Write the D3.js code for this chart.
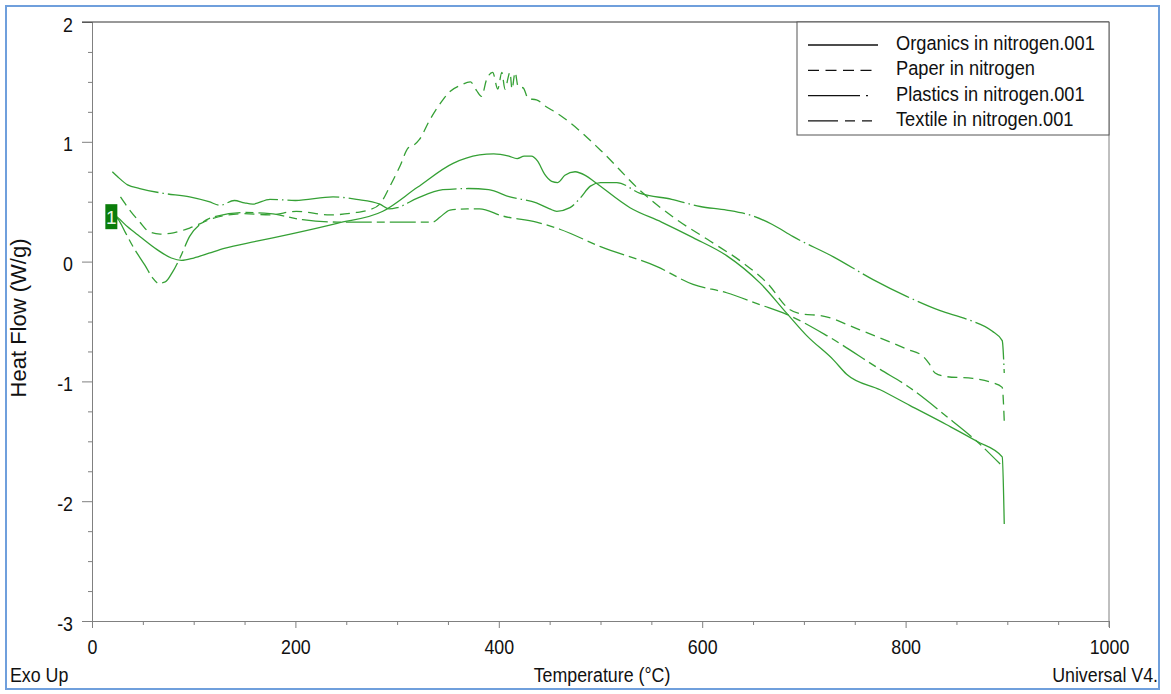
<!DOCTYPE html>
<html>
<head>
<meta charset="utf-8">
<script src="https://cdn.jsdelivr.net/npm/d3@7"></script>
<style>
body { margin: 0; background: #fff; }
svg text { font-family: "Liberation Sans", Arial, sans-serif; fill: #111; }
</style>
</head>
<body>
<svg id="chart" width="1171" height="694"></svg>
<script>
// tick labels
const xTicks = [0, 200, 400, 600, 800, 1000]
const yTicks = [-3, -2, -1, 0, 1, 2]
const seriesNames = ["Organics in nitrogen.001", "Paper in nitrogen", "Plastics in nitrogen.001", "Textile in nitrogen.001"]

// [temperature °C, heat flow W/g]
const organics = [[20,0.40],[25,0.37],[35,0.29],[47,0.21],[64,0.10],[78,0.03],[88,0.01],[100,0.03],[115,0.07],[130,0.11],[162,0.17],[195,0.23],[241,0.32],[286,0.42],[320,0.62],[355,0.82],[381,0.89],[395,0.90],[410,0.88],[418,0.86],[425,0.88],[432,0.88],[438,0.84],[445,0.73],[452,0.67],[458,0.66],[465,0.72],[475,0.75],[485,0.72],[495,0.66],[529,0.45],[560,0.33],[591,0.20],[624,0.05],[657,-0.18],[683,-0.43],[703,-0.62],[729,-0.82],[742,-0.94],[775,-1.07],[804,-1.20],[840,-1.36],[870,-1.50],[895,-1.63],[897,-2.19]]

const paper = [[28,0.54],[38,0.42],[47,0.33],[56,0.25],[67,0.23],[80,0.24],[96,0.28],[119,0.36],[149,0.40],[175,0.39],[201,0.42],[234,0.39],[260,0.41],[272,0.43],[283,0.48],[293,0.63],[303,0.80],[311,0.95],[316,0.97],[322,1.02],[332,1.18],[345,1.35],[352,1.42],[362,1.47],[372,1.50],[378,1.43],[383,1.38],[388,1.52],[394,1.58],[399,1.44],[403,1.58],[406,1.44],[411,1.58],[413,1.44],[416,1.58],[419,1.46],[424,1.45],[429,1.36],[437,1.35],[447,1.29],[457,1.24],[470,1.16],[500,0.93],[542,0.57],[575,0.35],[608,0.17],[640,-0.01],[664,-0.18],[686,-0.40],[700,-0.44],[716,-0.45],[755,-0.57],[801,-0.73],[817,-0.79],[823,-0.85],[829,-0.93],[840,-0.96],[866,-0.975],[885,-1.01],[895,-1.05],[897,-1.33]]

const plastics = [[20,0.75],[25,0.71],[35,0.64],[47,0.61],[70,0.57],[96,0.54],[115,0.50],[126,0.47],[140,0.51],[150,0.49],[158,0.48],[175,0.52],[200,0.51],[237,0.54],[260,0.52],[283,0.48],[292,0.44],[300,0.45],[320,0.53],[345,0.60],[370,0.61],[390,0.60],[411,0.54],[437,0.49],[450,0.44],[457,0.42],[470,0.45],[480,0.53],[490,0.63],[500,0.66],[516,0.66],[539,0.57],[570,0.52],[598,0.46],[624,0.43],[650,0.38],[669,0.31],[689,0.21],[729,0.04],[768,-0.15],[801,-0.29],[834,-0.41],[860,-0.48],[885,-0.58],[895,-0.66],[897,-0.93]]

const textile = [[20,0.40],[26,0.35],[33,0.24],[40,0.13],[52,-0.03],[60,-0.14],[65,-0.18],[72,-0.17],[79,-0.09],[87,0.04],[96,0.21],[109,0.33],[123,0.38],[149,0.41],[175,0.40],[207,0.35],[241,0.33],[286,0.33],[335,0.33],[342,0.37],[352,0.43],[369,0.44],[381,0.44],[404,0.38],[437,0.33],[460,0.27],[500,0.125],[555,-0.04],[591,-0.19],[624,-0.26],[657,-0.36],[683,-0.44],[723,-0.62],[775,-0.90],[802,-1.04],[840,-1.29],[870,-1.50],[893,-1.69]]

const W = 1171, H = 694
const plot = { left: 92, right: 1109, top: 22, bottom: 621 }
const green = "#35a035"
const squeezeK = 0.89

const series = [
    { name: seriesNames[0], values: organics, dash: null, legendDash: null },
    { name: seriesNames[1], values: paper, dash: "10,6", legendDash: "11,6.5" },
    { name: seriesNames[2], values: plastics, dash: "52,4,1.5,4", legendDash: "52,6,2,20" },
    { name: seriesNames[3], values: textile, dash: "26,5,8,5", legendDash: "30,7,10,7,10,20" }
]

// horizontally condensed text, like the squashed screenshot
function squeeze(sel, k) {
    sel.each(function() {
        let w = this.getComputedTextLength()
        d3.select(this).attr('textLength', w * k).attr('lengthAdjust', 'spacingAndGlyphs')
    })
}

const svg = d3.select('#chart')

// outer blue frame
svg.append('rect')
    .attr('x', 6).attr('y', 6)
    .attr('width', 1153).attr('height', 683)
    .attr('fill', 'none')
    .attr('stroke', '#6f9fdc')
    .attr('stroke-width', 2)

const x = d3.scaleLinear().domain([0, 1000]).range([plot.left, plot.right])
const y = d3.scaleLinear().domain([-3, 2]).range([plot.bottom, plot.top])

// minor ticks
const xMinor = d3.range(0, 1001, 50).filter(d => !xTicks.includes(d))
const yMinor = d3.range(-3, 2.001, 0.25).filter(d => !yTicks.includes(d))

svg.append('g')
    .attr('transform', `translate(0, ${plot.bottom})`)
    .call(d3.axisBottom(x).tickValues(xMinor).tickSize(4).tickSizeOuter(0).tickFormat(''))
svg.append('g')
    .attr('transform', `translate(${plot.left}, 0)`)
    .call(d3.axisLeft(y).tickValues(yMinor).tickSize(4).tickSizeOuter(0).tickFormat(''))

const xAxisG = svg.append('g')
    .attr('transform', `translate(0, ${plot.bottom})`)
    .call(d3.axisBottom(x).tickValues(xTicks).tickSize(7).tickSizeOuter(0).tickPadding(12).tickFormat(d => String(d)))
const yAxisG = svg.append('g')
    .attr('transform', `translate(${plot.left}, 0)`)
    .call(d3.axisLeft(y).tickValues(yTicks).tickSize(10).tickSizeOuter(0).tickPadding(9).tickFormat(d => String(d)))

svg.selectAll('.tick line, .domain').attr('stroke', '#808080')
svg.selectAll('.tick text').attr('font-size', 20).attr('font-family', '"Liberation Sans", Arial, sans-serif').attr('fill', '#111')
yAxisG.selectAll('.tick text').attr('dy', '0.45em')

// top and right frame lines
svg.append('line')
    .attr('x1', plot.left - 10).attr('x2', plot.right)
    .attr('y1', plot.top).attr('y2', plot.top)
    .attr('stroke', '#333')
svg.append('line')
    .attr('x1', plot.right).attr('x2', plot.right)
    .attr('y1', plot.top).attr('y2', plot.bottom + 6)
    .attr('stroke', '#808080')

// curves
const line = d3.line()
    .x(d => x(d[0]))
    .y(d => y(d[1]))
    .curve(d3.curveMonotoneX)

svg.append('g')
    .selectAll('path')
    .data(series)
    .join('path')
        .attr('d', d => line(d.values))
        .attr('fill', 'none')
        .attr('stroke', green)
        .attr('stroke-width', 1.3)
        .attr('stroke-dasharray', d => d.dash)

// start marker "1"
const mx = x(organics[0][0]) - 1, my = y(organics[0][1]) + 3
svg.append('rect')
    .attr('x', mx - 6).attr('y', my - 12.5)
    .attr('width', 12).attr('height', 25)
    .attr('fill', '#0b7d0b')
svg.append('text')
    .attr('x', mx).attr('y', my + 7)
    .attr('text-anchor', 'middle')
    .attr('font-size', 19)
    .style('fill', '#e8f5e8')
    .text('1')

// legend
const legend = svg.append('g')
legend.append('rect')
    .attr('x', 797).attr('y', plot.top)
    .attr('width', plot.right - 797).attr('height', 113)
    .attr('fill', '#fff')
    .attr('stroke', '#555')

const rows = legend.selectAll('g.row')
    .data(series)
    .join('g')
        .attr('class', 'row')
        .attr('transform', (d, i) => `translate(0, ${45 + i * 25.3})`)
rows.append('line')
    .attr('x1', 808).attr('x2', 878)
    .attr('stroke', '#111')
    .attr('stroke-width', 1.3)
    .attr('stroke-dasharray', d => d.legendDash)
rows.append('text')
    .attr('x', 896).attr('y', 5)
    .attr('font-size', 20.5)
    .text(d => d.name)

// axis titles and corner notes
svg.append('text')
    .attr('transform', 'translate(26, 318) rotate(-90)')
    .attr('text-anchor', 'middle')
    .attr('font-size', 22)
    .text('Heat Flow (W/g)')
const bottomTexts = [
    svg.append('text').attr('x', 10).attr('y', 682).attr('font-size', 20).text('Exo Up'),
    svg.append('text').attr('x', 602).attr('y', 682).attr('font-size', 20).attr('text-anchor', 'middle').text('Temperature (°C)'),
    svg.append('text').attr('x', 1158).attr('y', 682).attr('font-size', 20).attr('text-anchor', 'end').text('Universal V4.')
]

squeeze(svg.selectAll('.tick text'), squeezeK)
squeeze(rows.selectAll('text'), squeezeK)
bottomTexts.forEach(t => squeeze(t, squeezeK))
</script>
</body>
</html>
